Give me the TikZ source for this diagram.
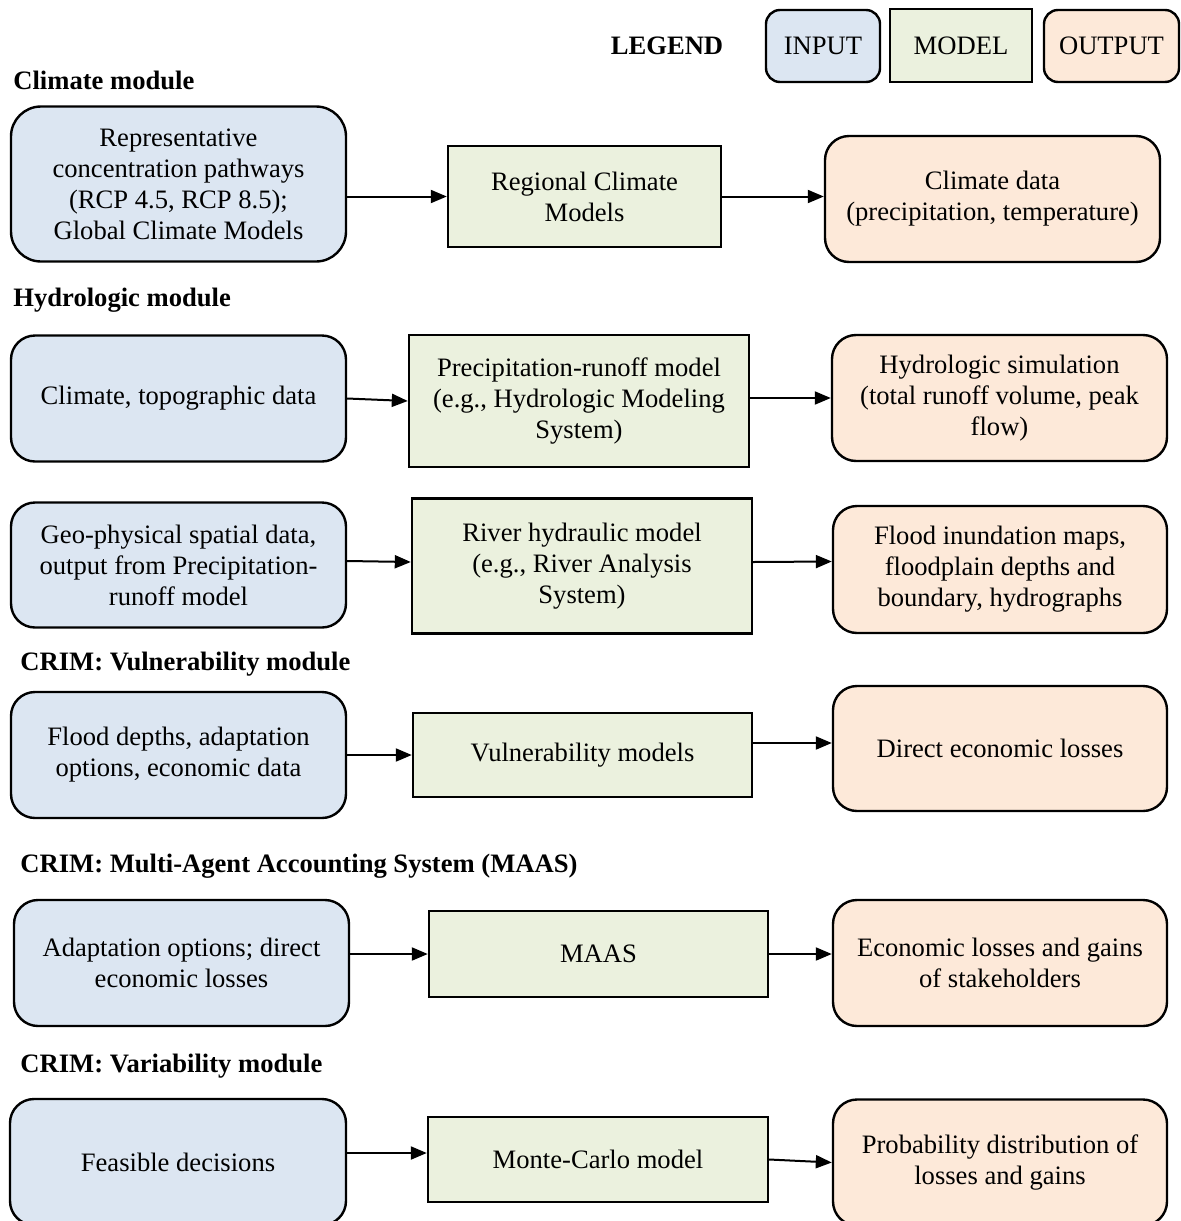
\documentclass[tikz,border=0pt]{standalone}
\usepackage{fontspec}
\setmainfont{Liberation Serif}
\usetikzlibrary{arrows.meta}
\definecolor{inblue}{RGB}{220, 230, 242}
\definecolor{modgreen}{RGB}{235, 241, 222}
\definecolor{outorange}{RGB}{253, 233, 217}

\begin{document}
\begin{tikzpicture}[x=0.5pt, y=-0.5pt,
    font=\fontsize{13.3pt}{15.5pt}\selectfont,
    inbox/.style={draw, line width=1.2pt, rounded corners=12pt, fill=inblue, align=center, inner sep=0pt},
    modelbox/.style={draw, line width=1.2pt, fill=modgreen, align=center, inner sep=0pt},
    outbox/.style={draw, line width=1.2pt, rounded corners=12pt, fill=outorange, align=center, inner sep=0pt},
    title/.style={anchor=west, font=\fontsize{13.3pt}{15.5pt}\selectfont\bfseries, inner sep=0pt},
    arr/.style={line width=1pt, -{Triangle[length=8pt, width=6.5pt]}}]
    \clip (0,0) rectangle (1181,1221);
    % legend
    \node[font=\fontsize{13.3pt}{15.5pt}\selectfont\bfseries] (legTxt) at (667,46) {LEGEND};
    \node[inbox, rounded corners=7pt, minimum width=57pt, minimum height=36pt] (legIn) at (823,46) {INPUT};
    \node[modelbox, minimum width=71pt, minimum height=36.5pt] (legMod) at (961,45.5) {MODEL};
    \node[outbox, rounded corners=7pt, minimum width=67.5pt, minimum height=36pt] (legOut) at (1111.5,46) {OUTPUT};

    % climate module
    \node[title] (tClim) at (13,80) {Climate module};
    \node[inbox, minimum width=167.5pt, minimum height=77.5pt, rounded corners=15pt] (in1) at (178.5,184)
        {Representative\\concentration pathways\\(RCP 4.5, RCP 8.5);\\Global Climate Models};
    \node[modelbox, minimum width=136.5pt, minimum height=50.5pt] (mod1) at (584.5,196.5) {Regional Climate\\Models};
    \node[outbox, minimum width=167.5pt, minimum height=63pt] (out1) at (992.5,199)
        {Climate data\\(precipitation, temperature)};
    \draw[arr] (in1.east |- mod1.west) -- (mod1.west);
    \draw[arr] (mod1.east) -- (out1.west |- mod1.east);

    % hydrologic module
    \node[title] (tHydro) at (13,300) {Hydrologic module};
    \node[inbox, minimum width=167.5pt, minimum height=63pt] (in2) at (178.5,398.5) {Climate, topographic data};
    \node[modelbox, minimum width=170pt, minimum height=66pt] (mod2) at (579,401)
        {Precipitation-runoff model\\(e.g., Hydrologic Modeling\\System)};
    \node[outbox, minimum width=167.5pt, minimum height=63pt] (out2) at (999.5,398)
        {Hydrologic simulation\\(total runoff volume, peak\\flow)};
    \draw[arr] (in2.east) -- (mod2.west);
    \draw[arr] (mod2.east |- out2.west) -- (out2.west);

    \node[inbox, minimum width=167.5pt, minimum height=62.5pt] (in3) at (178.5,565)
        {Geo-physical spatial data,\\output from Precipitation-\\runoff model};
    \node[modelbox, minimum width=170pt, minimum height=67.5pt] (mod3) at (582,566)
        {River hydraulic model\\(e.g., River Analysis\\System)};
    \node[outbox, minimum width=167pt, minimum height=63.5pt] (out3) at (1000,569.5)
        {Flood inundation maps,\\floodplain depths and\\boundary, hydrographs};
    \draw[arr] ([yshift=2pt]in3.east) -- ([yshift=2pt]mod3.west);
    \draw[arr] ([yshift=2pt]mod3.east) -- ([yshift=4pt]out3.west);

    % vulnerability module
    \node[title] (tVuln) at (20,664) {CRIM: Vulnerability module};
    \node[inbox, minimum width=167.5pt, minimum height=63pt] (in4) at (178.5,755)
        {Flood depths, adaptation\\options, economic data};
    \node[modelbox, minimum width=169.5pt, minimum height=42pt] (mod4) at (582.5,755) {Vulnerability models};
    \node[outbox, minimum width=167pt, minimum height=62.5pt] (out4) at (1000,748.5) {Direct economic losses};
    \draw[arr] (in4.east) -- (mod4.west);
    \draw[arr] ([yshift=6pt]mod4.east) -- ([yshift=2.75pt]out4.west);

    % MAAS
    \node[title] (tMaas) at (20,866) {CRIM: Multi-Agent Accounting System (MAAS)};
    \node[inbox, minimum width=167.5pt, minimum height=63pt] (in5) at (181.5,963)
        {Adaptation options; direct\\economic losses};
    \node[modelbox, minimum width=169.5pt, minimum height=43pt] (mod5) at (598.5,954) {MAAS};
    \node[outbox, minimum width=167pt, minimum height=63pt] (out5) at (1000,963)
        {Economic losses and gains\\of stakeholders};
    \draw[arr] (in5.east |- mod5.west) -- (mod5.west);
    \draw[arr] (mod5.east) -- (out5.west |- mod5.east);

    % variability module
    \node[title] (tVar) at (20,1066) {CRIM: Variability module};
    \node[inbox, minimum width=168pt, minimum height=63pt] (in6) at (178,1162) {Feasible decisions};
    \node[modelbox, minimum width=170pt, minimum height=42.5pt] (mod6) at (598,1159.5) {Monte-Carlo model};
    \node[outbox, minimum width=167pt, minimum height=63pt] (out6) at (1000,1162.5)
        {Probability distribution of\\losses and gains};
    \draw[arr] ([yshift=4.5pt]in6.east) -- ([yshift=3.25pt]mod6.west);
    \draw[arr] (mod6.east) -- (out6.west);
\end{tikzpicture}
\end{document}
